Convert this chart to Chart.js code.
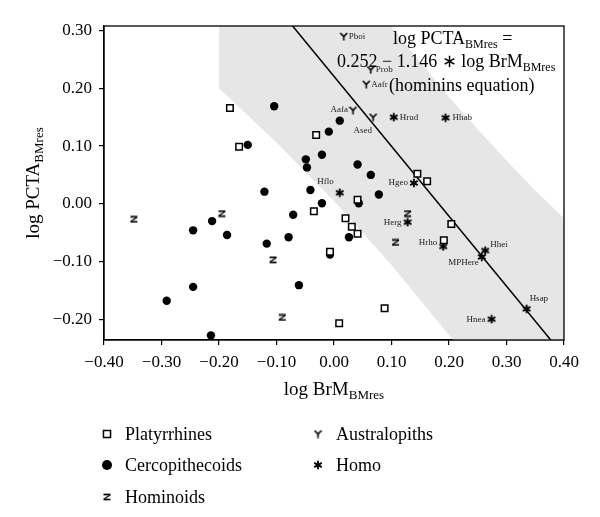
<!DOCTYPE html>
<html><head><meta charset="utf-8">
<script src="https://cdn.jsdelivr.net/npm/chart.js@4.4.0/dist/chart.umd.min.js"></script>
<style>html,body{margin:0;padding:0;background:#fff}#wrap{width:600px;height:517px}</style>
</head><body><div id="wrap"><canvas id="c" width="600" height="517"></canvas></div>
<script>
// ---------- data ----------
const xTickValues = [-0.4, -0.3, -0.2, -0.1, 0, 0.1, 0.2, 0.3, 0.4];
const yTickValues = [-0.2, -0.1, 0, 0.1, 0.2, 0.3];

const platyrrhinesX = [-0.181, -0.165, -0.031, 0.145, 0.162, 0.041, -0.035, 0.020, 0.204, 0.031, 0.041, 0.191, -0.007, 0.088, 0.009];
const platyrrhinesY = [0.166, 0.099, 0.119, 0.052, 0.039, 0.007, -0.013, -0.025, -0.035, -0.040, -0.052, -0.063, -0.083, -0.181, -0.207];

const cercopithecoidsX = [-0.104, -0.150, -0.049, -0.047, -0.121, 0.010, -0.009, -0.021, 0.041, 0.064, -0.041, 0.078, -0.021, 0.043, 0.026, -0.007, -0.061, -0.212, -0.245, -0.186, -0.071, -0.117, -0.079, -0.245, -0.291, -0.214];
const cercopithecoidsY = [0.169, 0.102, 0.077, 0.063, 0.021, 0.144, 0.125, 0.085, 0.068, 0.050, 0.024, 0.016, 0.001, 0.001, -0.058, -0.088, -0.141, -0.030, -0.046, -0.054, -0.019, -0.069, -0.058, -0.144, -0.168, -0.228];

const hominoidsX = [-0.348, -0.195, -0.106, -0.090, 0.128, 0.107];
const hominoidsY = [-0.027, -0.017, -0.097, -0.197, -0.017, -0.067];

const australopithNames = ['Pboi', 'Prob', 'Aafr', 'Aafa', 'Ased'];
const australopithsX = [0.017, 0.064, 0.056, 0.033, 0.068];
const australopithsY = [0.290, 0.232, 0.207, 0.162, 0.150];

const homoNames = ['Hrud', 'Hhab', 'Hgeo', 'Hflo', 'Herg', 'Hrho', 'Hhei', 'MPHere', 'Hsap', 'Hnea'];
const homoX = [0.104, 0.194, 0.139, 0.010, 0.128, 0.190, 0.263, 0.257, 0.335, 0.274];
const homoY = [0.150, 0.149, 0.036, 0.019, -0.032, -0.074, -0.081, -0.092, -0.182, -0.200];

// hominin regression line (end points)
const fitLineX = [-0.072, 0.377];
const fitLineY = [0.308, -0.236];

// shaded prediction band outline
const bandX = [-0.2, -0.2, -0.1, 0.0, 0.1, 0.207, 0.4, 0.4, 0.35, 0.3, 0.25, 0.2, 0.15, 0.099];
const bandY = [0.308, 0.2, 0.106, 0.005, -0.106, -0.236, -0.236, -0.025, 0.023, 0.075, 0.129, 0.185, 0.245, 0.308];

const seriesLabels = ['Platyrrhines', 'Cercopithecoids', 'Hominoids', 'Australopiths', 'Homo'];

// ---------- styling ----------
const FONT = '"Liberation Serif", "Times New Roman", serif';
const zip = (xs, ys) => xs.map((x, i) => ({x: x, y: ys[i]}));

function glyph(w, h, draw) {
  const c = document.createElement('canvas');
  c.width = w; c.height = h;
  const g = c.getContext('2d');
  g.strokeStyle = '#000'; g.fillStyle = '#000';
  g.lineCap = 'butt';
  draw(g);
  return c;
}
const zGlyph = glyph(9, 8, g => {
  g.lineWidth = 1.7;
  g.beginPath(); g.moveTo(1, 1.5); g.lineTo(8, 1.5); g.stroke();
  g.beginPath(); g.moveTo(1, 6.5); g.lineTo(8, 6.5); g.stroke();
  g.lineWidth = 1.4;
  g.beginPath(); g.moveTo(7.5, 2); g.lineTo(1.5, 6); g.stroke();
});
const yGlyph = glyph(9, 9, g => {
  g.lineWidth = 1.6;
  g.beginPath(); g.moveTo(1, 1); g.lineTo(4.5, 4.5); g.lineTo(8, 1); g.stroke();
  g.beginPath(); g.moveTo(4.5, 4.2); g.lineTo(4.5, 8.5); g.stroke();
});
const starGlyph = glyph(10, 10, g => {
  g.lineWidth = 1.8;
  const r = 4.3;
  [90, 30, 150].forEach(a => {
    const t = a * Math.PI / 180;
    g.beginPath(); g.moveTo(5 - r * Math.cos(t), 5 - r * Math.sin(t));
    g.lineTo(5 + r * Math.cos(t), 5 + r * Math.sin(t)); g.stroke();
  });
});

const labelPlacement = {
  Pboi: [5, 0, 'left'], Prob: [5, 0, 'left'], Aafr: [5, 0, 'left'], Aafa: [-5, -1, 'right'],
  Ased: [-1, 13, 'right'], Hrud: [6, 0, 'left'], Hhab: [7, 0, 'left'], Hgeo: [-6, 0, 'right'],
  Hflo: [-6, -11, 'right'], Herg: [-6, 0, 'right'], Hrho: [-6, -4, 'right'], Hhei: [5, -6, 'left'],
  MPHere: [-3, 6, 'right'], Hsap: [3, -10, 'left'], Hnea: [-6, 0, 'right']
};

function textParts(ctx, parts, x, y, align) {
  let total = 0;
  parts.forEach(p => { ctx.font = p.s + 'px ' + FONT; p.w = ctx.measureText(p.t).width; total += p.w; });
  let cx = align === 'center' ? x - total / 2 : x;
  ctx.textAlign = 'left'; ctx.textBaseline = 'alphabetic';
  parts.forEach(p => { ctx.font = p.s + 'px ' + FONT; ctx.fillText(p.t, cx, y + (p.dy || 0)); cx += p.w; });
}

const decorPlugin = {
  id: 'decor',
  afterDatasetsDraw(chart) {
    const ctx = chart.ctx;
    const a = chart.chartArea;
    ctx.save();
    ctx.fillStyle = '#000';
    // point labels
    ctx.font = '9px ' + FONT;
    ctx.textBaseline = 'middle';
    [[3, australopithNames], [4, homoNames]].forEach(([di, names]) => {
      const meta = chart.getDatasetMeta(di);
      meta.data.forEach((pt, i) => {
        const p = labelPlacement[names[i]] || [5, 0, 'left'];
        ctx.textAlign = p[2];
        ctx.fillStyle = '#222';
        ctx.fillText(names[i], pt.x + p[0], pt.y + p[1]);
      });
    });
    // frame
    ctx.strokeStyle = '#000';
    ctx.lineWidth = 1.3;
    ctx.strokeRect(a.left, a.top, a.right - a.left, a.bottom - a.top);
    ctx.fillStyle = '#000';
    // equation
    textParts(ctx, [{t: 'log PCTA', s: 18}, {t: 'BMres', s: 12, dy: 4}, {t: ' =', s: 18}], 393, 44, 'left');
    textParts(ctx, [{t: '0.252 \u2212 1.146 \u2217 log BrM', s: 18}, {t: 'BMres', s: 12, dy: 4}], 337, 67, 'left');
    textParts(ctx, [{t: '(hominins equation)', s: 18}], 389, 91, 'left');
    // axis titles
    textParts(ctx, [{t: 'log BrM', s: 19}, {t: 'BMres', s: 13, dy: 4}], (a.left + a.right) / 2, 395, 'center');
    ctx.save();
    ctx.translate(39, (a.top + a.bottom) / 2);
    ctx.rotate(-Math.PI / 2);
    textParts(ctx, [{t: 'log PCTA', s: 19}, {t: 'BMres', s: 13, dy: 4}], 0, 0, 'center');
    ctx.restore();
    // legend
    const slots = [[107, 434], [107, 465], [107, 497], [318, 434], [318, 465]];
    chart.data.datasets.forEach((ds, i) => {
      if (i > 4) return;
      const [mx, my] = slots[i];
      ctx.save();
      ctx.fillStyle = ds.backgroundColor; ctx.strokeStyle = ds.borderColor; ctx.lineWidth = ds.borderWidth;
      Chart.helpers.drawPoint(ctx, {pointStyle: ds.pointStyle, radius: ds.legendRadius, rotation: 0, borderWidth: ds.borderWidth}, mx, my);
      ctx.restore();
      ctx.fillStyle = '#000';
      ctx.font = '18px ' + FONT;
      ctx.textAlign = 'left'; ctx.textBaseline = 'middle';
      ctx.fillText(ds.label, mx + 18, my + 1);
    });
    ctx.restore();
  }
};

const fmt = v => (v < 0 ? '\u2212' : '') + Math.abs(v).toFixed(2);

new Chart(document.getElementById('c'), {
  type: 'scatter',
  data: {
    datasets: [
      {label: seriesLabels[0], data: zip(platyrrhinesX, platyrrhinesY), pointStyle: 'rect', pointRadius: 4.6, legendRadius: 5,
       backgroundColor: '#fff', borderColor: '#000', borderWidth: 1.5, order: 1},
      {label: seriesLabels[1], data: zip(cercopithecoidsX, cercopithecoidsY), pointStyle: 'circle', pointRadius: 4.2, legendRadius: 5,
       backgroundColor: '#000', borderColor: '#000', borderWidth: 0, order: 1},
      {label: seriesLabels[2], data: zip(hominoidsX, hominoidsY), pointStyle: zGlyph, pointRadius: 4, legendRadius: 4,
       backgroundColor: '#000', borderColor: '#000', borderWidth: 0, order: 1},
      {label: seriesLabels[3], data: zip(australopithsX, australopithsY), pointStyle: yGlyph, pointRadius: 4, legendRadius: 4,
       backgroundColor: '#000', borderColor: '#000', borderWidth: 0, order: 1},
      {label: seriesLabels[4], data: zip(homoX, homoY), pointStyle: starGlyph, pointRadius: 4, legendRadius: 4,
       backgroundColor: '#000', borderColor: '#000', borderWidth: 0, order: 1},
      {label: 'fit', type: 'line', data: zip(fitLineX, fitLineY), borderColor: '#000', borderWidth: 1.5,
       pointRadius: 0, fill: false, tension: 0, order: 2},
      {label: 'band', type: 'line', data: zip(bandX, bandY), borderWidth: 0, borderColor: 'rgba(0,0,0,0)',
       backgroundColor: '#e6e6e6', pointRadius: 0, fill: 'shape', tension: 0, order: 3}
    ]
  },
  options: {
    responsive: false,
    animation: false,
    devicePixelRatio: 1,
    layout: {padding: {left: 0, top: 26, right: 36, bottom: 147}},
    plugins: {legend: {display: false}, tooltip: {enabled: false}, filler: {drawTime: 'beforeDatasetsDraw'}},
    scales: {
      x: {
        type: 'linear', min: -0.4, max: 0.4,
        afterFit: s => { s.height = 30; },
        afterBuildTicks: s => { s.ticks = xTickValues.map(v => ({value: v})); },
        grid: {drawOnChartArea: false, drawTicks: true, tickLength: 5, color: '#000', lineWidth: 1.2},
        border: {display: true, color: '#000', width: 1.3},
        ticks: {callback: v => fmt(v), color: '#000', font: {family: FONT, size: 17}, padding: 7, maxRotation: 0}
      },
      y: {
        type: 'linear', min: -0.236, max: 0.308,
        afterFit: s => { s.width = 104; },
        afterBuildTicks: s => { s.ticks = yTickValues.map(v => ({value: v})); },
        grid: {drawOnChartArea: false, drawTicks: true, tickLength: 5, color: '#000', lineWidth: 1.2},
        border: {display: true, color: '#000', width: 1.3},
        ticks: {callback: v => fmt(v), color: '#000', font: {family: FONT, size: 17}, padding: 7}
      }
    }
  },
  plugins: [decorPlugin]
});
</script>
</body></html>
